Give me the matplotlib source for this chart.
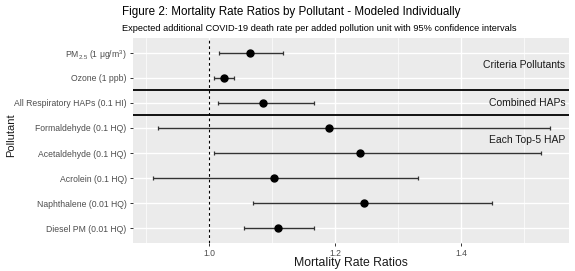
import matplotlib.pyplot as plt

plt.rcParams['font.family'] = ['Liberation Sans', 'DejaVu Sans']
plt.rcParams['mathtext.fontset'] = 'custom'
plt.rcParams['mathtext.rm'] = 'Liberation Sans'
plt.rcParams['mathtext.it'] = 'Liberation Sans'
plt.rcParams['mathtext.default'] = 'regular'

# Pollutants, top to bottom
pollutants = [r'PM$_{2.5}$ (1 $\mu$g/m$^3$)', 'Ozone (1 ppb)', 'All Respiratory HAPs (0.1 HI)',
              'Formaldehyde (0.1 HQ)', 'Acetaldehyde (0.1 HQ)', 'Acrolein (0.1 HQ)',
              'Naphthalene (0.01 HQ)', 'Diesel PM (0.01 HQ)']
mrr = [1.064, 1.023, 1.086, 1.190, 1.240, 1.102, 1.245, 1.109]
ci_low = [1.015, 1.007, 1.014, 0.919, 1.007, 0.911, 1.069, 1.055]
ci_high = [1.117, 1.039, 1.166, 1.541, 1.527, 1.332, 1.449, 1.166]

group_labels = ['Criteria Pollutants', 'Combined HAPs', 'Each Top-5 HAP']
group_rows = [0.5, 2.0, 3.5]
group_breaks = [1.5, 2.5]

fig = plt.figure(figsize=(5.75, 2.71), dpi=100)
ax = fig.add_axes([0.2313, 0.1033, 0.7583, 0.7565])
ax.set_facecolor('#EBEBEB')

ypos = list(range(len(pollutants)))
xerr = [[m - lo for m, lo in zip(mrr, ci_low)], [hi - m for m, hi in zip(mrr, ci_high)]]
ax.errorbar(mrr, ypos, xerr=xerr, fmt='o', color='black', ecolor='#333333',
            elinewidth=1.0, capsize=1.2, capthick=0.9, markersize=5, zorder=3)

ax.axvline(1.0, color='black', linestyle=(0, (2.5, 2.5)), linewidth=0.8, zorder=2)
for b in group_breaks:
    ax.axhline(b, color='black', linewidth=1.3, zorder=2)

for lab, r in zip(group_labels, group_rows):
    ax.text(1.565, r, lab, ha='right', va='center', fontsize=7.5, color='#1A1A1A')

ax.set_xlim(0.879, 1.571)
ax.set_ylim(len(pollutants) - 0.4, -0.6)
ax.set_xticks([1.0, 1.2, 1.4])
ax.set_xticks([0.9, 1.1, 1.3, 1.5], minor=True)
ax.set_yticks(ypos)
ax.set_yticklabels(pollutants)
ax.grid(True, which='major', color='white', linewidth=1.0)
ax.grid(True, which='minor', axis='x', color='white', linewidth=0.5)
ax.set_axisbelow(True)
for s in ax.spines.values():
    s.set_visible(False)
ax.tick_params(axis='both', which='major', length=2.5, width=0.7, color='#333333',
               labelsize=6.2, labelcolor='#4D4D4D', pad=2)
ax.tick_params(axis='both', which='minor', length=0)

fig.text(0.6104, 0.030, 'Mortality Rate Ratios', fontsize=8.8, color='#1A1A1A',
         ha='center', va='center')
fig.text(0.019, 0.50, 'Pollutant', fontsize=8, color='#1A1A1A', rotation=90,
         ha='center', va='center')

fig.text(0.2122, 0.955, 'Figure 2: Mortality Rate Ratios by Pollutant - Modeled Individually',
         fontsize=8.4, ha='left', va='center', color='black')
fig.text(0.2122, 0.895, 'Expected additional COVID-19 death rate per added pollution unit with 95% confidence intervals',
         fontsize=6.65, ha='left', va='center', color='black')

fig.savefig('out.png', dpi=100)
